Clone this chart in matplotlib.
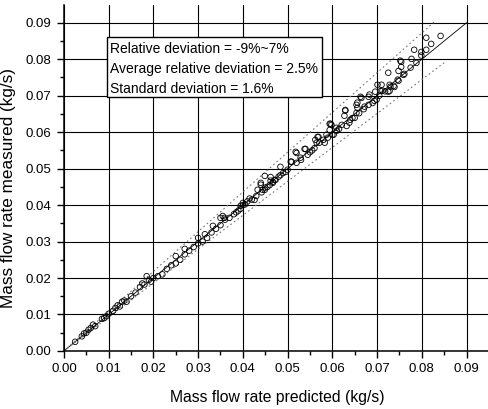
import matplotlib.pyplot as plt
from matplotlib.patches import Rectangle
from matplotlib.ticker import MultipleLocator
import numpy as np

plt.rcParams['font.family'] = ['Liberation Sans', 'DejaVu Sans']

# predicted / measured mass flow rates (kg/s)
predicted = [0.0025, 0.004, 0.0045, 0.005, 0.0055, 0.006, 0.0065, 0.007, 0.0085, 0.009,
             0.0095, 0.010, 0.011, 0.0115, 0.012, 0.0125, 0.013, 0.0135, 0.014, 0.015,
             0.016, 0.017, 0.0175, 0.018, 0.0185, 0.019, 0.0195, 0.020, 0.021, 0.022,
             0.023, 0.024, 0.025, 0.025, 0.026, 0.027, 0.027, 0.028, 0.029, 0.030,
             0.030, 0.031, 0.0315, 0.032, 0.033, 0.0333, 0.034, 0.035, 0.035, 0.0355,
             0.0359, 0.036, 0.037, 0.038, 0.0385, 0.039, 0.0395, 0.0395, 0.040, 0.040,
             0.0405, 0.041, 0.0415, 0.042, 0.0426, 0.043, 0.0433, 0.044, 0.044, 0.0442,
             0.0444, 0.0449, 0.0449, 0.045, 0.0455, 0.046, 0.0462, 0.0462, 0.0467, 0.0467,
             0.0471, 0.0473, 0.048, 0.0484, 0.0484, 0.049, 0.0496, 0.050, 0.0507, 0.0509,
             0.0518, 0.052, 0.052, 0.0529, 0.053, 0.0538, 0.054, 0.0545, 0.055, 0.0555,
             0.056, 0.0562, 0.0565, 0.0567, 0.0569, 0.0571, 0.058, 0.0583, 0.0587, 0.059,
             0.0594, 0.0594, 0.0596, 0.0598, 0.060, 0.0603, 0.0609, 0.061, 0.0615, 0.0621,
             0.0627, 0.0629, 0.0629, 0.0632, 0.0638, 0.064, 0.0645, 0.065, 0.0654, 0.0654,
             0.0656, 0.0656, 0.066, 0.0663, 0.0665, 0.067, 0.0672, 0.0681, 0.0681, 0.0683,
             0.0690, 0.0694, 0.0696, 0.0699, 0.0701, 0.0705, 0.0708, 0.071, 0.0712, 0.0718,
             0.0725, 0.0725, 0.0728, 0.0728, 0.073, 0.0737, 0.0739, 0.0746, 0.0748, 0.0748,
             0.0752, 0.0754, 0.0754, 0.0759, 0.0761, 0.0775, 0.0777, 0.0783, 0.0788, 0.0799,
             0.0799, 0.081, 0.081, 0.0821, 0.0842]
measured = [0.0025, 0.004, 0.0048, 0.005, 0.0058, 0.0063, 0.0072, 0.0068, 0.0088, 0.009,
            0.0095, 0.0102, 0.011, 0.0118, 0.0125, 0.0122, 0.0135, 0.0138, 0.0135, 0.015,
            0.016, 0.0175, 0.0185, 0.0182, 0.0205, 0.0195, 0.019, 0.020, 0.0205, 0.021,
            0.0225, 0.0235, 0.026, 0.024, 0.025, 0.0265, 0.028, 0.0275, 0.0285, 0.031,
            0.0295, 0.030, 0.032, 0.031, 0.0325, 0.0343, 0.0335, 0.0345, 0.0365, 0.037,
            0.0365, 0.036, 0.0365, 0.0375, 0.038, 0.0385, 0.039, 0.0398, 0.040, 0.0406,
            0.0402, 0.041, 0.0418, 0.0415, 0.0414, 0.0425, 0.0442, 0.0461, 0.0456, 0.0435,
            0.0442, 0.0442, 0.048, 0.0448, 0.045, 0.0455, 0.0477, 0.0467, 0.0461, 0.0464,
            0.0469, 0.0469, 0.0478, 0.0505, 0.0482, 0.0488, 0.0491, 0.0497, 0.0519, 0.0519,
            0.0546, 0.0516, 0.0543, 0.053, 0.0524, 0.0554, 0.0554, 0.0538, 0.0545, 0.055,
            0.0556, 0.0579, 0.0571, 0.0587, 0.0587, 0.0571, 0.0579, 0.0571, 0.0593, 0.0585,
            0.0606, 0.0623, 0.0623, 0.062, 0.0593, 0.0593, 0.0612, 0.0604, 0.0609, 0.062,
            0.0645, 0.0659, 0.0661, 0.0617, 0.0626, 0.0634, 0.0639, 0.0639, 0.0675, 0.0653,
            0.0681, 0.0667, 0.0652, 0.0697, 0.0694, 0.0663, 0.067, 0.0675, 0.0697, 0.0703,
            0.068, 0.0686, 0.0711, 0.0689, 0.073, 0.070, 0.0713, 0.073, 0.0714, 0.0712,
            0.0711, 0.0763, 0.0713, 0.073, 0.0725, 0.0727, 0.0724, 0.0744, 0.0768, 0.0741,
            0.0796, 0.0779, 0.0793, 0.0757, 0.0760, 0.0777, 0.0801, 0.0826, 0.079, 0.0820,
            0.081, 0.0859, 0.0826, 0.0842, 0.0864]

ticks = [0.00, 0.01, 0.02, 0.03, 0.04, 0.05, 0.06, 0.07, 0.08, 0.09]
upper_ratio, lower_ratio = 1.09, 0.93
info = ["Relative deviation = -9%~7%",
        "Average relative deviation = 2.5%",
        "Standard deviation = 1.6%"]

fig = plt.figure(figsize=(4.88, 4.09), dpi=100)
ax = fig.add_axes([0.131, 0.142, 0.869, 0.846])

ax.set_xlim(0, 0.0948)
ax.set_ylim(0, 0.0949)
ax.set_xticks(ticks)
ax.set_yticks(ticks)
ax.set_xticklabels([f"{t:.2f}" for t in ticks])
ax.set_yticklabels([f"{t:.2f}" for t in ticks])
ax.xaxis.set_minor_locator(MultipleLocator(0.005))
ax.yaxis.set_minor_locator(MultipleLocator(0.005))
ax.tick_params(which='major', direction='out', length=5, width=1, labelsize=9.5, pad=4)
ax.tick_params(which='minor', direction='out', length=3, width=1)
ax.grid(True, which='major', color='black', linewidth=0.8)
ax.set_axisbelow(True)
for s in ['top', 'right']:
    ax.spines[s].set_visible(False)
for s in ['left', 'bottom']:
    ax.spines[s].set_linewidth(1.1)

# 1:1 line and deviation band
ax.plot([0, 0.09], [0, 0.09], color='black', linewidth=0.6)
xu = np.array([0, 0.083])
xl = np.array([0, 0.085])
ax.plot(xu, upper_ratio * xu, color='#777777', linestyle=(0, (1.5, 2.5)), linewidth=0.8)
ax.plot(xl, lower_ratio * xl, color='#777777', linestyle=(0, (1.5, 2.5)), linewidth=0.8)

ax.scatter(predicted, measured, s=16, facecolors='none', edgecolors='black',
           linewidths=0.6, zorder=3)

ax.add_patch(Rectangle((0.0096, 0.0697), 0.0482, 0.0165, facecolor='white',
                       edgecolor='black', linewidth=1, zorder=4))
for i, line in enumerate(info):
    ax.text(0.0104, 0.0827 - i * 0.0054, line, fontsize=10, va='center', ha='left', zorder=5)

ax.set_xlabel("Mass flow rate predicted (kg/s)", fontsize=11.3)
ax.xaxis.set_label_coords(0.502, -0.112)
ax.set_ylabel("Mass flow rate measured (kg/s)", fontsize=12.3)
ax.yaxis.set_label_coords(-0.112, 0.47)

fig.savefig("out.png", dpi=100)
